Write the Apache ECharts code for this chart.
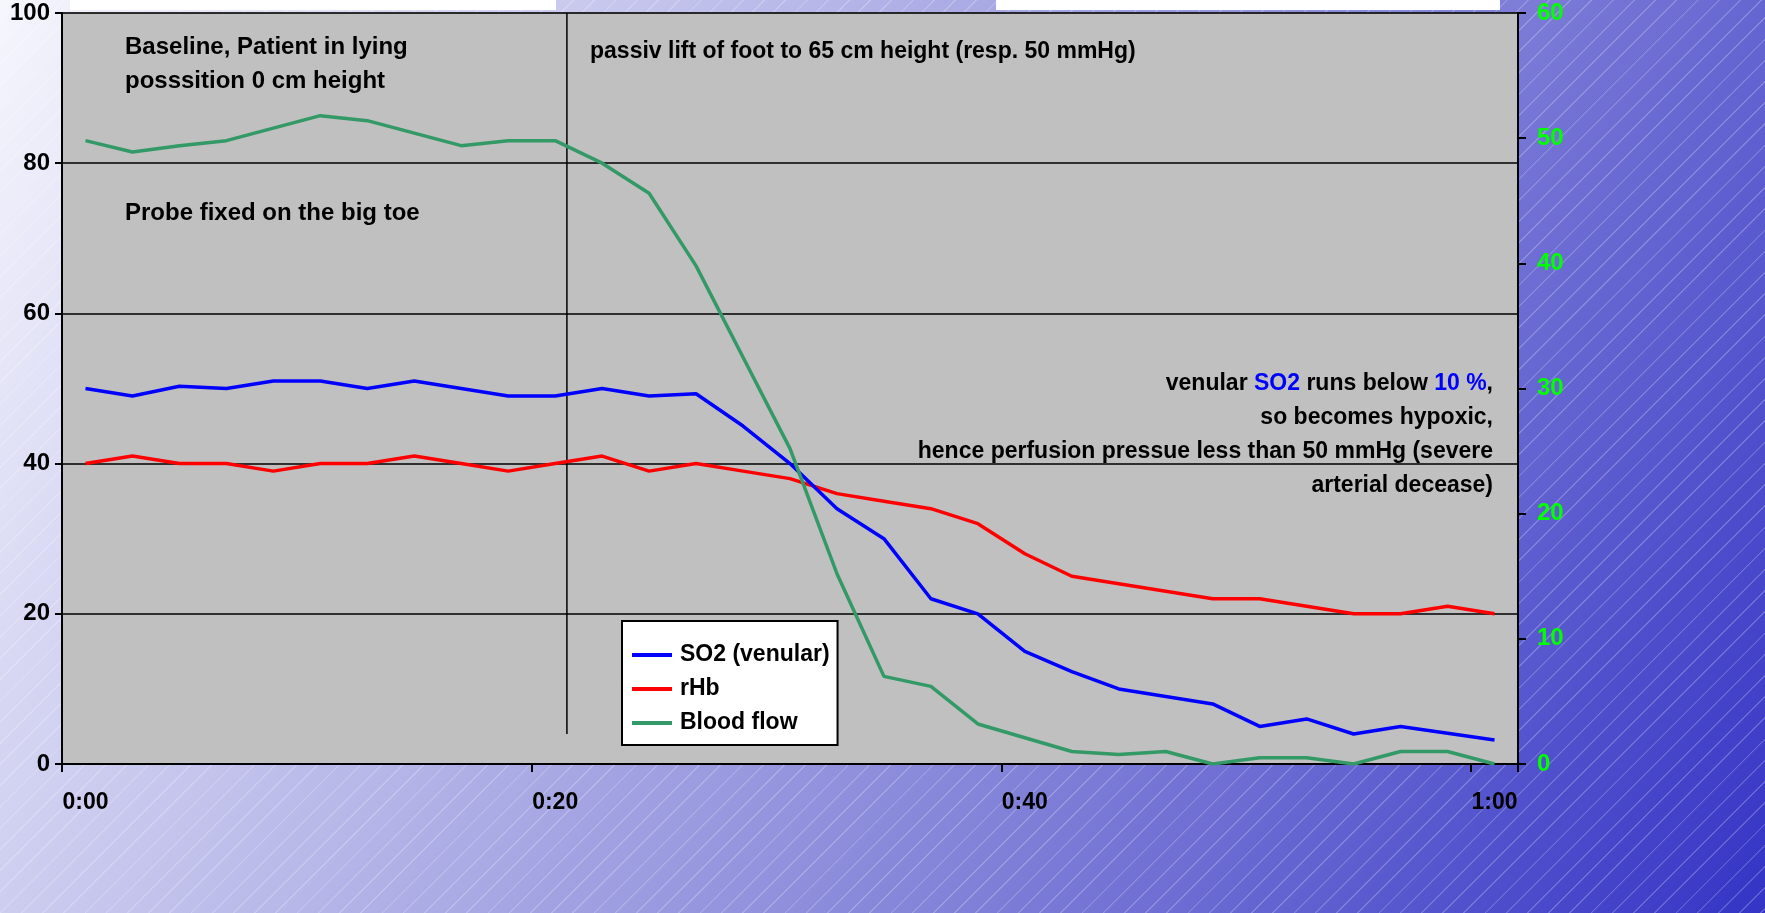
<!DOCTYPE html>
<html>
<head>
<meta charset="utf-8">
<script src="https://cdn.jsdelivr.net/npm/echarts@6/dist/echarts.min.js"></script>
<style>
  html, body { margin: 0; padding: 0; width: 1765px; height: 913px; overflow: hidden; }
  body {
    background:
      repeating-linear-gradient(135deg, rgba(255,255,255,0.22) 0px, rgba(255,255,255,0.22) 1px, rgba(255,255,255,0) 1.5px, rgba(255,255,255,0) 15px),
      linear-gradient(120deg, #F6F6FD 0%, #B8B8E9 35%, #8080D8 65%, #3434C6 100%);
  }
  #chart { width: 1765px; height: 913px; }
</style>
</head>
<body>
<div id="chart"></div>
<script>
// ---- data ----
const categories = ['0:00','0:02','0:04','0:06','0:08','0:10','0:12','0:14','0:16','0:18',
                    '0:20','0:22','0:24','0:26','0:28','0:30','0:32','0:34','0:36','0:38',
                    '0:40','0:42','0:44','0:46','0:48','0:50','0:52','0:54','0:56','0:58','1:00'];
const so2Venular = [50, 49, 50.3, 50, 51, 51, 50, 51, 50, 49,
                    49, 50, 49, 49.3, 45, 40, 34, 30, 22, 20,
                    15, 12.3, 10, 9, 8, 5, 6, 4, 5, 4.1, 3.2];
const rHb        = [40, 41, 40, 40, 39, 40, 40, 41, 40, 39,
                    40, 41, 39, 40, 39, 38, 36, 35, 34, 32,
                    28, 25, 24, 23, 22, 22, 21, 20, 20, 21, 20];
const bloodFlow  = [49.8, 48.9, 49.4, 49.8, 50.8, 51.8, 51.4, 50.4, 49.4, 49.8,
                    49.8, 48, 45.6, 39.8, 32.5, 25.2, 15.2, 7, 6.2, 3.2,
                    2.1, 1, 0.75, 1, 0, 0.5, 0.5, 0, 1, 1, 0];
const leftTicks  = [0, 20, 40, 60, 80, 100];
const rightTicks = [0, 10, 20, 30, 40, 50, 60];
const liftStartSeconds = 20.5;        // moment of passive foot lift
const liftMarkerRange = [4, 100];     // vertical extent of the marker on the left scale
const seriesNames = ['SO2 (venular)', 'rHb', 'Blood flow'];

const FONT = '"Liberation Sans", Arial, Helvetica, sans-serif';

const chart = echarts.init(document.getElementById('chart'), null, { renderer: 'canvas' });

chart.setOption({
  backgroundColor: 'transparent',
  animation: false,
  grid: {
    left: 62, right: 247, top: 13, bottom: 149,
    show: true, backgroundColor: '#C0C0C0', borderColor: '#7f7f7f', borderWidth: 1
  },
  legend: {
    data: seriesNames,
    orient: 'vertical',
    left: 622, top: 621,
    backgroundColor: '#ffffff',
    borderColor: '#000000', borderWidth: 2, borderRadius: 0,
    padding: [22, 8, 10, 10],
    itemGap: 10,
    itemWidth: 40, itemHeight: 4,
    icon: 'rect',
    textStyle: { fontFamily: FONT, fontSize: 23, fontWeight: 'bold', color: '#000', lineHeight: 24, padding: [0, 0, 0, 3] }
  },
  xAxis: [{
    type: 'category',
    data: categories,
    boundaryGap: true,
    axisLine: { show: true, onZero: false, lineStyle: { color: '#000', width: 2 } },
    axisTick: { show: true, interval: 9, length: 8, lineStyle: { color: '#000', width: 2 } },
    axisLabel: { interval: 9, margin: 27, fontFamily: FONT, fontSize: 23, fontWeight: 'bold', color: '#000' },
    splitLine: { show: false }
  }, {
    type: 'value',
    min: -1, max: 61,
    show: false,
    axisLine: { onZero: false }
  }],
  yAxis: [{
    type: 'value',
    position: 'left',
    min: leftTicks[0], max: leftTicks[leftTicks.length - 1], interval: 20,
    axisLine: { show: true, onZero: false, lineStyle: { color: '#000', width: 2 } },
    axisTick: { show: true, length: 7, lineStyle: { color: '#000', width: 2 } },
    axisLabel: { margin: 12, fontFamily: FONT, fontSize: 24, fontWeight: 'bold', color: '#000' },
    splitLine: { show: true, lineStyle: { color: '#000', width: 1.5 } }
  }, {
    type: 'value',
    position: 'right',
    min: rightTicks[0], max: rightTicks[rightTicks.length - 1], interval: 10,
    axisLine: { show: true, onZero: false, lineStyle: { color: '#000', width: 2 } },
    axisTick: { show: true, length: 8, lineStyle: { color: '#000', width: 2 } },
    axisLabel: { margin: 19, fontFamily: FONT, fontSize: 24, fontWeight: 'bold', color: '#00FF00' },
    splitLine: { show: false }
  }],
  series: [{
    name: seriesNames[0], type: 'line', data: so2Venular, yAxisIndex: 0,
    symbol: 'none', lineStyle: { color: '#0000FF', width: 3.5 }, itemStyle: { color: '#0000FF' }, z: 4
  }, {
    name: seriesNames[1], type: 'line', data: rHb, yAxisIndex: 0,
    symbol: 'none', lineStyle: { color: '#FF0000', width: 3.5 }, itemStyle: { color: '#FF0000' }, z: 3
  }, {
    name: seriesNames[2], type: 'line', data: bloodFlow, yAxisIndex: 1,
    symbol: 'none', lineStyle: { color: '#339966', width: 3.5 }, itemStyle: { color: '#339966' }, z: 5
  }, {
    name: 'lift', type: 'line', xAxisIndex: 1, yAxisIndex: 0, silent: true,
    data: [[liftStartSeconds, liftMarkerRange[0]], [liftStartSeconds, liftMarkerRange[1]]],
    symbol: 'none', lineStyle: { color: '#000', width: 1.5 }, z: 2
  }],
  graphic: [
    { type: 'rect', shape: { x: 70, y: 0, width: 486, height: 10 }, style: { fill: '#ffffff' }, z: 100 },
    { type: 'rect', shape: { x: 996, y: 0, width: 504, height: 10 }, style: { fill: '#ffffff' }, z: 100 },
    { type: 'text', x: 125, y: 30, z: 100,
      style: { text: 'Baseline, Patient in lying\nposssition 0 cm height', font: 'bold 24px ' + FONT, lineHeight: 34, fill: '#000' } },
    { type: 'text', x: 125, y: 196, z: 100,
      style: { text: 'Probe fixed on the big toe', font: 'bold 24px ' + FONT, lineHeight: 34, fill: '#000' } },
    { type: 'text', x: 590, y: 35, z: 100,
      style: { text: 'passiv lift of foot to 65 cm height (resp. 50 mmHg)', font: 'bold 23px ' + FONT, lineHeight: 34, fill: '#000' } },
    { type: 'text', x: 1493, y: 367, z: 100,
      style: {
        text: '{n|venular }{b|SO2}{n| runs below }{b|10 %}{n|,}\n{n|so becomes hypoxic,}\n{n|hence perfusion pressue less than 50 mmHg (severe}\n{n|arterial decease)}',
        align: 'right', verticalAlign: 'top',
        font: 'bold 23px ' + FONT,
        rich: {
          n: { font: 'bold 23px ' + FONT, fill: '#000', lineHeight: 34 },
          b: { font: 'bold 23px ' + FONT, fill: '#0000FF', lineHeight: 34 }
        }
      } }
  ]
});
</script>
</body>
</html>
